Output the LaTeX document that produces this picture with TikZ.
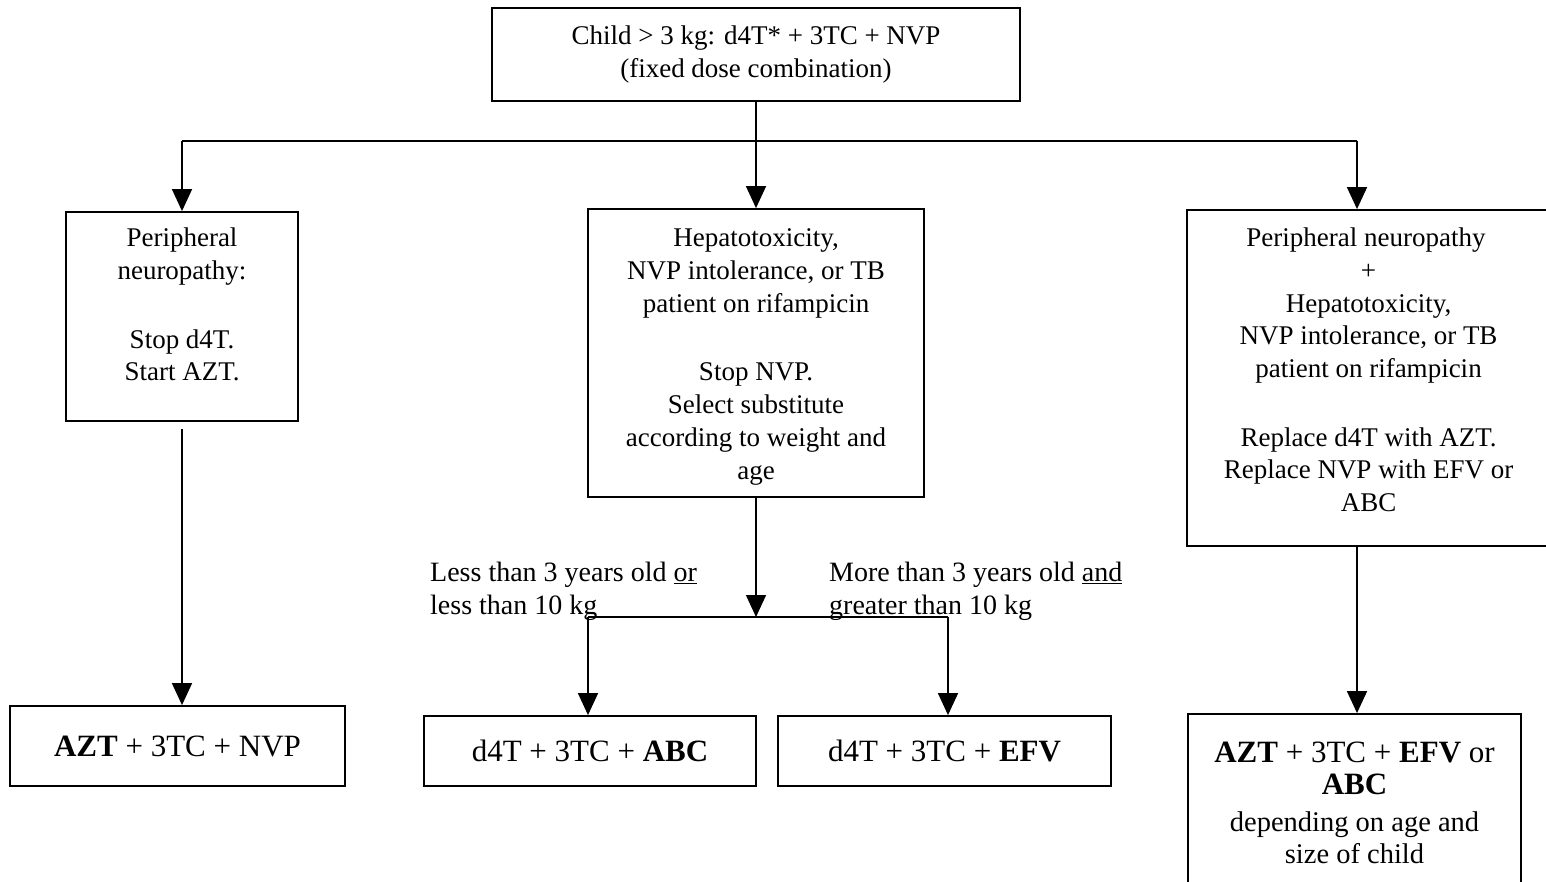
\documentclass[tikz,border=0pt]{standalone}
\usepackage{fontspec}
\setmainfont{Liberation Serif}
\usetikzlibrary{arrows.meta}
\newcommand\mybox[4]{\parbox[c][#2][t]{#1}{\centering\vspace*{#3}#4\par}}
\begin{document}
\begin{tikzpicture}[x=1pt,y=-1pt,
  box/.style={draw, line width=1.8pt, inner sep=0pt, align=center},
  gfont/.style={font=\fontsize{27}{32.7}\selectfont},
  tfont/.style={font=\fontsize{31}{34}\selectfont},
  lfont/.style={font=\fontsize{28}{32.5}\selectfont},
  conn/.style={line width=1.5pt},
  arr/.style={line width=1.5pt, -{Triangle[width=20pt,length=22pt]}}]
\useasboundingbox (0,0) rectangle (1546,882);
% boxes
\node[box, gfont, minimum width=528pt, minimum height=93pt] (top) at (756,54.5)
  {Child > 3 kg: d4T* + 3TC + NVP\\(fixed dose combination)};
\node[box, gfont] (left) at (182,316.5)
  {\mybox{232pt}{209pt}{16pt}{Peripheral\\neuropathy:\\[36pt]Stop d4T.\\Start AZT.}};
\node[box, gfont] (mid) at (756,353)
  {\mybox{336pt}{288pt}{20pt}{Hepatotoxicity,\\NVP intolerance, or TB\\patient on rifampicin\\[36pt]Stop NVP.\\Select substitute\\according to weight and\\age}};
\node[box, gfont] (right) at (1368.5,378)
  {\mybox{363pt}{336pt}{18pt}{\hspace*{-5pt}Peripheral neuropathy\\+\\Hepatotoxicity,\\NVP intolerance, or TB\\patient on rifampicin\\[36pt]Replace d4T with AZT.\\Replace NVP with EFV or\\ABC}};
\node[box, tfont, minimum width=335pt, minimum height=80pt] (bl) at (177.5,746)
  {\textbf{AZT} + 3TC + NVP};
\node[box, tfont, minimum width=332pt, minimum height=70pt] (bm1) at (590,751)
  {d4T + 3TC + \textbf{ABC}};
\node[box, tfont, minimum width=333pt, minimum height=70pt] (bm2) at (944.5,751)
  {d4T + 3TC + \textbf{EFV}};
\node[box, font=\fontsize{28.5}{32.5}\selectfont, minimum width=333pt, minimum height=178pt] (br) at (1354.5,803)
  {{\fontsize{31}{33}\selectfont\textbf{AZT} + 3TC + \textbf{EFV} or}\\{\fontsize{31}{33}\selectfont\textbf{ABC}}\\[4pt]depending on age and\\size of child};
% labels
\node[lfont, align=left, anchor=north west, inner sep=0pt] (lab1) at (430,562)
  {Less than 3 years old \underline{or}\\less than 10 kg};
\node[lfont, align=left, anchor=north west, inner sep=0pt] (lab2) at (829,562)
  {More than 3 years old \underline{and}\\greater than 10 kg};
% connectors
\coordinate (jl) at (182,141);
\coordinate (jr) at (1357,141);
\coordinate (jm) at (756,617);
\coordinate (b1) at (588,617);
\coordinate (b2) at (948,617);
\draw[arr] (top.south) -- (mid.north);
\draw[conn] (jl) -- (jr);
\draw[arr] (jl) -- (left.north);
\draw[arr] (jr) -- (jr |- right.north);
\draw[arr] ([yshift=-7pt]left.south) -- (left.south |- bl.north);
\draw[arr] (mid.south) -- (jm);
\draw[conn] (b1) -- (b2);
\draw[arr] (b1) -- (b1 |- bm1.north);
\draw[arr] (b2) -- (b2 |- bm2.north);
\draw[arr] (jr |- right.south) -- (jr |- br.north);
\end{tikzpicture}
\end{document}
